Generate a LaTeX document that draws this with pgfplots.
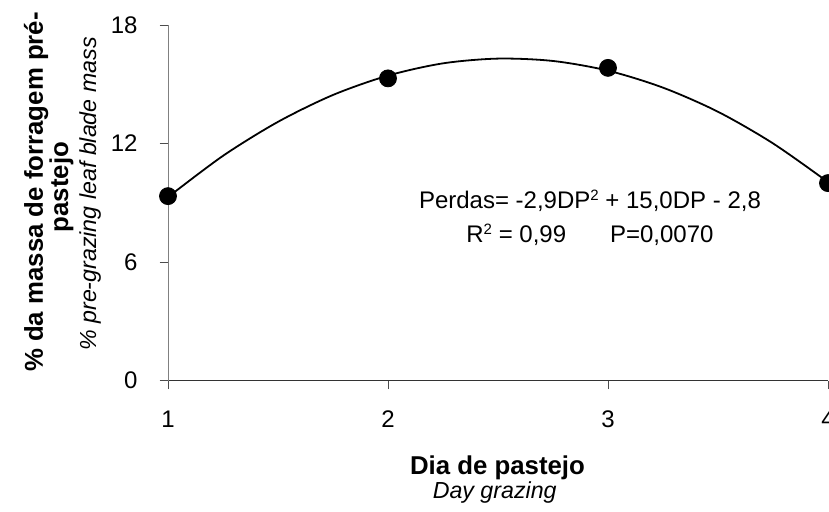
\documentclass[border=0pt]{standalone}
\usepackage{pgfplots}
\pgfplotsset{compat=1.18}
\usepackage{fontspec}
\setmainfont{Liberation Sans}
\newcommand{\sq}{\raisebox{4pt}{\fontsize{7.5}{8}\selectfont 2}}
\pgfplotsset{
  every x tick label/.append style={font=\fontsize{12}{14}\selectfont, anchor=base, yshift=-19.4pt},
  every y tick label/.append style={font=\fontsize{12}{14}\selectfont, anchor=east},
}
\begin{document}
\begin{tikzpicture}
\begin{axis}[
  name=ax,
  scale only axis,
  width=330pt, height=177.85pt,
  xmin=1, xmax=4, ymin=0, ymax=18,
  xtick={1,2,3,4}, ytick={0,6,12,18},
  yticklabel={\pgfmathprintnumber{\tick}\hspace*{7.5pt}},
  axis lines=left,
  axis line style={-},
  x axis line style={draw=black!80},
  y axis line style={draw=black!50},
  tick align=outside,
  major tick length=4.2pt,
  tick style={black!70, line width=0.5pt},
  /pgf/number format/assume math mode=true,
  clip=false,
]
\addplot[black, line width=0.9pt, smooth] coordinates {
 (1,9.29) (1.25,11.38) (1.5,13.10) (1.75,14.46) (2,15.44) (2.25,16.06)
 (2.5,16.30) (2.75,16.18) (3,15.69) (3.25,14.83) (3.5,13.61) (3.75,12.01) (4,10.05)
};
\addplot[only marks, mark=*, mark size=4.25pt, black] coordinates {
 (1,9.34) (2,15.30) (3,15.83) (4,10.0)
};
\node[anchor=base, font=\fontsize{12}{14}\selectfont] at (axis cs:2.918,8.69) {Perdas= -2,9DP\sq{} + 15,0DP - 2,8};
\node[anchor=base, font=\fontsize{12}{14}\selectfont] at (axis cs:2.918,6.97) {R\sq{} = 0,99\hspace{1.83em}P=0,0070};
\node[anchor=base, rotate=90, font=\fontsize{12.9}{15}\bfseries\selectfont] at (axis description cs:-0.1894,0.5305) {\% da massa de forragem pré-};
\node[anchor=base, rotate=90, font=\fontsize{12.9}{15}\bfseries\selectfont] at (axis description cs:-0.1515,0.5446) {pastejo};
\node[anchor=base, rotate=90, font=\fontsize{11.6}{13}\itshape\selectfont] at (axis description cs:-0.109,0.525) {\% pre-grazing leaf blade mass};
\node[anchor=base, font=\fontsize{12.9}{15}\bfseries\selectfont] at (axis description cs:0.4992,-0.265) {Dia de pastejo};
\node[anchor=base, font=\fontsize{11.6}{13}\itshape\selectfont] at (axis description cs:0.495,-0.33) {Day grazing};
\end{axis}
\pgfresetboundingbox
\useasboundingbox (ax.south west) ++(-84pt,-65.15pt) rectangle ++(414.5pt,255.5pt);
\end{tikzpicture}
\end{document}
